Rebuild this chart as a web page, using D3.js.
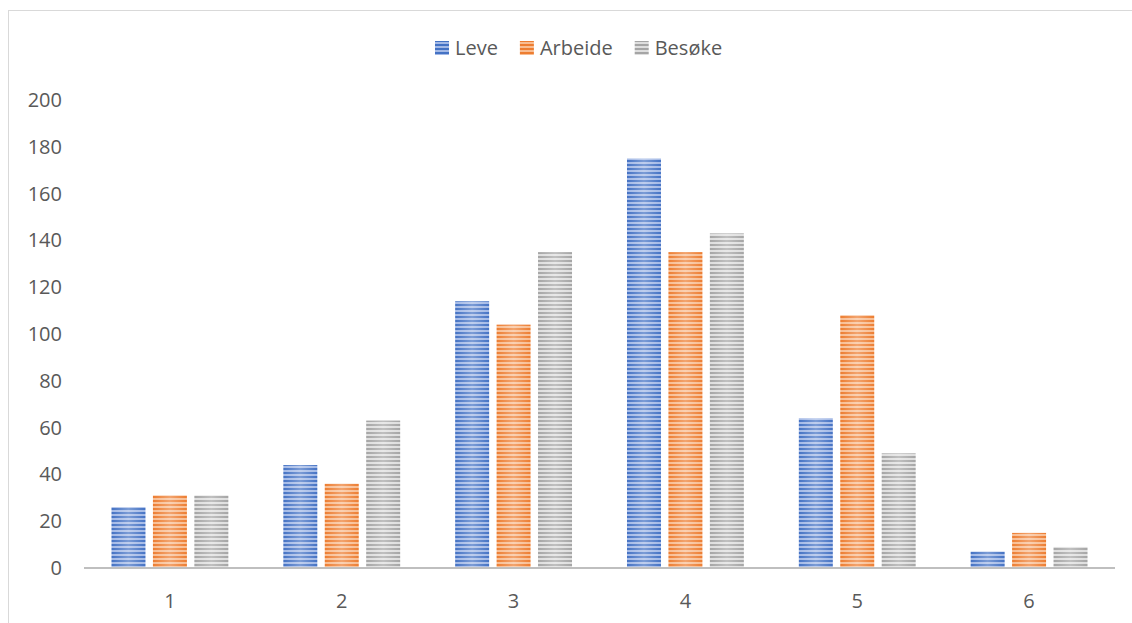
<!DOCTYPE html>
<html>
<head>
<meta charset="utf-8">
<script src="https://cdn.jsdelivr.net/npm/d3@7"></script>
<style>
  body { margin: 0; background: #fff; }
  text { font-family: "Open Sans", sans-serif; fill: #595959; }
</style>
</head>
<body>
<div id="container"></div>
<script>
const categories = ["1", "2", "3", "4", "5", "6"];
const seriesNames = ["Leve", "Arbeide", "Besøke"];
const leve = [26, 44, 114, 175, 64, 7];
const arbeide = [31, 36, 104, 135, 108, 15];
const besoke = [31, 63, 135, 143, 49, 9];
const yTicks = [0, 20, 40, 60, 80, 100, 120, 140, 160, 180, 200];

const widthSVG = 1132,
    heightSVG = 623,
    plotLeft = 84,
    plotRight = 1115,
    plotBottom = 568,
    plotTop = 100;

// dark / light stripe colours per series
const colors = [
    { dark: "#4472c4", light: "#a3b9e6" },
    { dark: "#ed7d31", light: "#f8bd92" },
    { dark: "#a5a5a5", light: "#dedede" }
];

const values = [leve, arbeide, besoke];
const data = categories.map((c, i) => ({
    cat: c,
    vals: seriesNames.map((s, j) => ({ key: s, idx: j, value: values[j][i] }))
}));

const svg = d3.select('#container')
    .append('svg')
    .attr('width', widthSVG)
    .attr('height', heightSVG);

// outer chart border (only top and left are inside the picture)
svg.append('rect')
    .attr('x', 8.5)
    .attr('y', 10.5)
    .attr('width', 1300)
    .attr('height', 800)
    .attr('fill', 'none')
    .attr('stroke', '#d9d9d9');

const defs = svg.append('defs');
colors.forEach((c, i) => {
    const p = defs.append('pattern')
        .attr('id', 'stripe' + i)
        .attr('patternUnits', 'userSpaceOnUse')
        .attr('width', 8)
        .attr('height', 4);
    p.append('rect').attr('width', 8).attr('height', 4).attr('fill', c.light);
    p.append('rect').attr('width', 8).attr('height', 2).attr('fill', c.dark);
});
const glow = defs.append('linearGradient')
    .attr('id', 'glow')
    .attr('x1', '0%').attr('x2', '100%').attr('y1', '0%').attr('y2', '0%');
glow.append('stop').attr('offset', '0%').attr('stop-color', '#fff').attr('stop-opacity', 0);
glow.append('stop').attr('offset', '50%').attr('stop-color', '#fff').attr('stop-opacity', 0.3);
glow.append('stop').attr('offset', '100%').attr('stop-color', '#fff').attr('stop-opacity', 0);

const xScale = d3.scaleBand()
    .domain(categories)
    .range([plotLeft, plotRight])
    .paddingInner(0.32)
    .paddingOuter(0.16);

const xSub = d3.scaleBand()
    .domain(seriesNames)
    .range([0, xScale.bandwidth()])
    .paddingInner(0.18);

const yScale = d3.scaleLinear()
    .domain([0, 200])
    .range([plotBottom, plotTop]);

// bars
const groups = svg.append('g')
    .selectAll('g')
    .data(data)
    .enter()
    .append('g')
    .attr('transform', d => `translate(${xScale(d.cat)},0)`);

groups.selectAll('rect.bar')
    .data(d => d.vals)
    .enter()
    .append('rect')
    .attr('class', 'bar')
    .attr('x', d => xSub(d.key))
    .attr('y', d => yScale(d.value))
    .attr('width', xSub.bandwidth())
    .attr('height', d => plotBottom - yScale(d.value))
    .attr('fill', d => `url(#stripe${d.idx})`);

groups.selectAll('rect.glow')
    .data(d => d.vals)
    .enter()
    .append('rect')
    .attr('class', 'glow')
    .attr('x', d => xSub(d.key))
    .attr('y', d => yScale(d.value))
    .attr('width', xSub.bandwidth())
    .attr('height', d => plotBottom - yScale(d.value))
    .attr('fill', 'url(#glow)');

// y axis (labels only)
const yAxis = svg.append('g')
    .attr('transform', `translate(${plotLeft - 22},0)`)
    .call(d3.axisLeft(yScale).tickValues(yTicks).tickSize(0).tickPadding(0));
yAxis.select('.domain').remove();
yAxis.selectAll('text')
    .style('font-size', '20px')
    .style('font-family', '"Open Sans", sans-serif')
    .attr('fill', '#595959');

// x axis
const xAxis = svg.append('g')
    .attr('transform', `translate(0,${plotBottom})`)
    .call(d3.axisBottom(xScale).tickSize(0).tickPadding(26));
xAxis.select('.domain')
    .attr('stroke', '#bfbfbf')
    .attr('stroke-width', 2)
    .attr('d', `M${plotLeft},0H${plotRight}`);
xAxis.selectAll('text')
    .style('font-size', '20px')
    .style('font-family', '"Open Sans", sans-serif')
    .attr('fill', '#595959');

// legend
const legend = svg.append('g').attr('id', 'legend');
let lx = 435;
seriesNames.forEach((s, i) => {
    legend.append('rect')
        .attr('x', lx)
        .attr('y', 41)
        .attr('width', 14)
        .attr('height', 14)
        .attr('fill', `url(#stripe${i})`);
    const t = legend.append('text')
        .attr('x', lx + 20)
        .attr('y', 55)
        .style('font-size', '20px')
        .text(s);
    lx += 20 + t.node().getComputedTextLength() + 22;
});
</script>
</body>
</html>
